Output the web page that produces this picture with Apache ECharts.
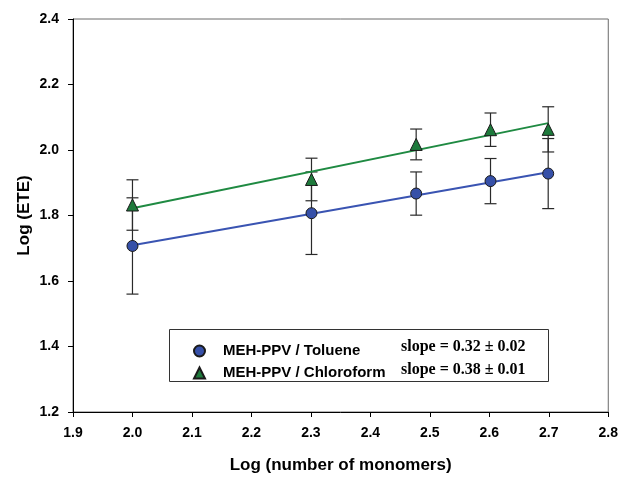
<!DOCTYPE html>
<html>
<head>
<meta charset="utf-8">
<script src="https://cdn.jsdelivr.net/npm/echarts@6/dist/echarts.min.js"></script>
<style>
html,body{margin:0;padding:0;background:#fff;}
#chart{width:621px;height:479px;}
</style>
</head>
<body>
<div id="chart"></div>
<script>
// Data
const xVals = [2.0, 2.301, 2.477, 2.602, 2.699];
const tolY = [1.707, 1.807, 1.867, 1.905, 1.928];
const tolErr = [0.147, 0.126, 0.066, 0.069, 0.107];
const chlY = [1.832, 1.910, 2.017, 2.062, 2.063];
const chlErr = [0.077, 0.065, 0.047, 0.051, 0.069];
const fitX = [2.0, 2.699];
const tolFit = [1.709, 1.932];
const chlFit = [1.822, 2.082];
const seriesNames = ['MEH-PPV / Toluene', 'MEH-PPV / Chloroform'];
const slopeTexts = ['slope = 0.32 \u00B1 0.02', 'slope = 0.38 \u00B1 0.01'];

const chart = echarts.init(document.getElementById('chart'), null, {renderer: 'canvas'});

function errData(ys, es) {
  return xVals.map((x, i) => [x, ys[i] - es[i], ys[i] + es[i]]);
}
function errRender(params, api) {
  const x = api.value(0);
  const lo = api.coord([x, api.value(1)]);
  const hi = api.coord([x, api.value(2)]);
  const w = 6;
  const st = {stroke: '#2a2a2a', lineWidth: 1.2};
  return {
    type: 'group',
    children: [
      {type: 'line', shape: {x1: lo[0], y1: lo[1], x2: hi[0], y2: hi[1]}, style: st},
      {type: 'line', shape: {x1: lo[0] - w, y1: lo[1], x2: lo[0] + w, y2: lo[1]}, style: st},
      {type: 'line', shape: {x1: hi[0] - w, y1: hi[1], x2: hi[0] + w, y2: hi[1]}, style: st}
    ]
  };
}

const labelFont = {fontFamily: 'Liberation Sans, Arial, sans-serif', fontWeight: 'bold', fontSize: 14, color: '#000'};
const nameFont = {fontFamily: 'Liberation Sans, Arial, sans-serif', fontWeight: 'bold', fontSize: 17, color: '#000'};

const option = {
  backgroundColor: '#fff',
  animation: false,
  grid: {left: 73, right: 11, top: 19, bottom: 65, show: true, borderColor: '#6a6a6a', borderWidth: 1, backgroundColor: 'transparent'},
  xAxis: {
    type: 'value', min: 1.9, max: 2.8, interval: 0.1,
    name: 'Log (number of monomers)', nameLocation: 'middle', nameGap: 45, nameTextStyle: nameFont,
    axisLine: {lineStyle: {color: '#000', width: 1}},
    axisTick: {show: true, length: 5, lineStyle: {color: '#000'}},
    axisLabel: Object.assign({margin: 14, formatter: v => v.toFixed(1)}, labelFont),
    splitLine: {show: false}
  },
  yAxis: {
    type: 'value', min: 1.2, max: 2.4, interval: 0.2,
    name: 'Log (ETE)', nameLocation: 'middle', nameGap: 40, nameMoveOverlap: false, nameTextStyle: nameFont,
    axisLine: {show: true, lineStyle: {color: '#000', width: 1}},
    axisTick: {show: true, length: 5, lineStyle: {color: '#000'}},
    axisLabel: Object.assign({margin: 14, formatter: v => v.toFixed(1)}, labelFont),
    splitLine: {show: false}
  },
  legend: {
    data: seriesNames,
    orient: 'vertical',
    left: 188, top: 338,
    itemWidth: 11, itemHeight: 11, itemGap: 6,
    symbolKeepAspect: true,
    textStyle: {fontFamily: 'Liberation Sans, Arial, sans-serif', fontWeight: 'bold', fontSize: 15, color: '#000', lineHeight: 16, padding: [0, 0, 0, 13]},
    z: 10
  },
  graphic: [
    {type: 'rect', left: 169, top: 329, shape: {width: 379, height: 52}, style: {fill: '#fff', stroke: '#333', lineWidth: 1}, z: 3},
    {type: 'text', left: 401, top: 339, style: {text: slopeTexts[0], font: 'bold 16px "Liberation Serif", "Times New Roman", serif', fill: '#000'}, z: 11},
    {type: 'text', left: 401, top: 362, style: {text: slopeTexts[1], font: 'bold 16px "Liberation Serif", "Times New Roman", serif', fill: '#000'}, z: 11}
  ],
  series: [
    {name: 'errTol', type: 'custom', renderItem: errRender, data: errData(tolY, tolErr), encode: {x: 0, y: [1, 2]}, z: 1, silent: true},
    {name: 'errChl', type: 'custom', renderItem: errRender, data: errData(chlY, chlErr), encode: {x: 0, y: [1, 2]}, z: 1, silent: true},
    {name: 'fitTol', type: 'line', data: fitX.map((x, i) => [x, tolFit[i]]), showSymbol: false, lineStyle: {color: '#3a54b2', width: 2}, z: 2},
    {name: 'fitChl', type: 'line', data: fitX.map((x, i) => [x, chlFit[i]]), showSymbol: false, lineStyle: {color: '#1f8a42', width: 2}, z: 2},
    {name: seriesNames[0], type: 'scatter', data: xVals.map((x, i) => [x, tolY[i]]), symbol: 'circle', symbolSize: 11,
     itemStyle: {color: '#3650a8', borderColor: '#1a1a1a', borderWidth: 1, opacity: 1}, z: 3},
    {name: seriesNames[1], type: 'scatter', data: xVals.map((x, i) => [x, chlY[i]]), symbol: 'triangle', symbolSize: 12,
     itemStyle: {color: '#1e7a3c', borderColor: '#1a1a1a', borderWidth: 1, opacity: 1}, z: 3}
  ]
};
chart.setOption(option);
</script>
</body>
</html>
